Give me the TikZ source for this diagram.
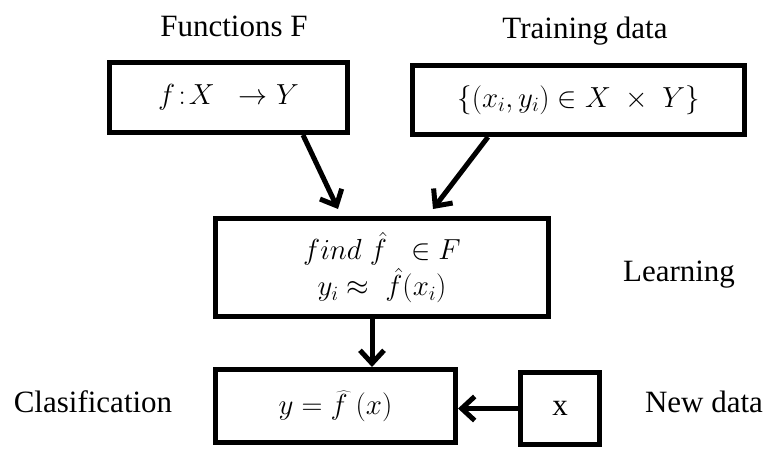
\RequirePackage{fix-cm}
\documentclass[tikz,border=0pt]{standalone}
\usepackage{fontspec}
\setmainfont{Liberation Serif}
\usetikzlibrary{arrows.meta}
\begin{document}
\begin{tikzpicture}[x=1pt,y=-1pt,
  box/.style={draw, line width=5pt, inner sep=0pt, align=center, font=\fontsize{29}{35}\selectfont},
  lbl/.style={anchor=base, inner sep=0pt, font=\fontsize{31}{37}\selectfont},
  arr/.style={line width=5pt, -{Straight Barb[length=13pt, width=24pt]}}]
\useasboundingbox (0,0) rectangle (772,450);
% boxes
\node[box, minimum width=238pt, minimum height=70pt] (b1) at (228.5,97.5) {$f\!:\!X\;\;\to Y$};
\node[box, minimum width=332pt, minimum height=69pt] (b2) at (578.5,100) {$\{(x_i,y_i)\in X\;\times\;Y\}$};
\node[box, minimum width=333pt, minimum height=98pt] (b3) at (382,267.5) {$find\;\hat{f}\;\;\in F$\\[1pt]$y_i\approx\;\hat{f}(x_i)$};
\node[box, minimum width=240pt, minimum height=73pt] (b4) at (335.5,406) {$y=\widehat{f}\;(x)$};
\node[box, minimum width=79pt, minimum height=72pt] (bx) at (560,408.5) {\fontsize{31}{37}\selectfont x};
% labels
\node[lbl] (lf) at (234,36) {Functions F};
\node[lbl] (lt) at (585,38) {Training data};
\node[lbl] (ll) at (679,281) {Learning};
\node[lbl] (lc) at (93,412) {Clasification};
\node[lbl] (ln) at (704,412) {New data};
% arrows
\draw[arr] ([xshift=74.5pt]b1.south) -- ([xshift=-44pt,yshift=7pt]b3.north);
\draw[arr] ([xshift=-90.5pt]b2.south) -- ([xshift=51pt,yshift=7pt]b3.north);
\draw[arr] ([xshift=-10pt]b3.south) -- ([xshift=36.5pt]b4.north);
\draw[arr] (bx.west) -- (bx.west -| b4.east);
\end{tikzpicture}
\end{document}
